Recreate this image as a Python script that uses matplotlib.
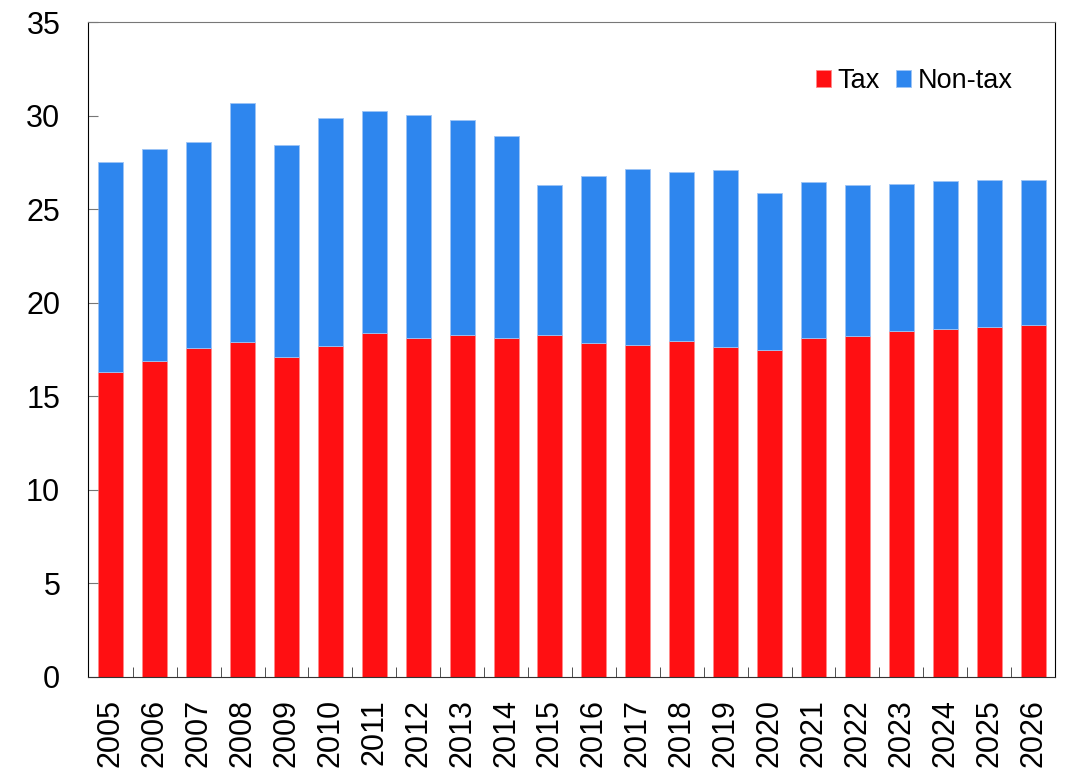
import matplotlib.pyplot as plt
import numpy as np

plt.rcParams["font.family"] = ["Liberation Sans", "DejaVu Sans"]

years = [str(y) for y in range(2005, 2027)]
tax = [16.3, 16.9, 17.6, 17.9, 17.1, 17.7, 18.4, 18.1, 18.25, 18.1, 18.25,
       17.85, 17.75, 17.95, 17.65, 17.45, 18.1, 18.2, 18.5, 18.6, 18.7, 18.8]
non_tax = [11.2, 11.3, 11.0, 12.75, 11.35, 12.15, 11.85, 11.95, 11.5, 10.8, 8.05,
           8.9, 9.4, 9.05, 9.45, 8.4, 8.35, 8.1, 7.85, 7.9, 7.85, 7.75]

RED = "#ff0f12"
BLUE = "#2e86ee"

fig = plt.figure(figsize=(10.66, 7.69), dpi=100)
ax = fig.add_axes([88 / 1066, 1 - 677 / 769, (1055 - 88) / 1066, (677 - 22) / 769])

x = np.arange(len(years))
ax.bar(x, tax, width=0.57, color=RED, edgecolor="#ff8a8a", linewidth=0.6, label="Tax")
ax.bar(x, non_tax, bottom=tax, width=0.57, color=BLUE, edgecolor="#9cc4f5",
       linewidth=0.6, label="Non-tax")

ax.set_xlim(-0.52, len(years) - 0.5)
ax.set_ylim(0, 35)
ax.set_yticks(range(0, 36, 5))

ax.set_xticks(x)
ax.set_xticklabels(years, rotation=90)
ax.set_xticks(x[:-1] + 0.5, minor=True)
ax.tick_params(axis="x", which="major", length=0, pad=16, labelsize=22)
ax.tick_params(axis="x", which="minor", direction="in", length=7, color="#333333")
ax.tick_params(axis="y", direction="in", length=7, color="#777777", pad=20,
               labelsize=22)

for side in ["left", "right"]:
    ax.spines[side].set_color("black")
ax.spines["bottom"].set_color("#333333")
ax.spines["top"].set_color("#777777")

ax.legend(loc="center right", bbox_to_anchor=(1013 / 1066, 1 - 81 / 769),
          bbox_transform=fig.transFigure, ncol=2, frameon=False, fontsize=19.5,
          handlelength=0.55, handleheight=0.55, handletextpad=0.25,
          columnspacing=0.6, borderpad=0, borderaxespad=0)

fig.savefig("out.png", dpi=100)
